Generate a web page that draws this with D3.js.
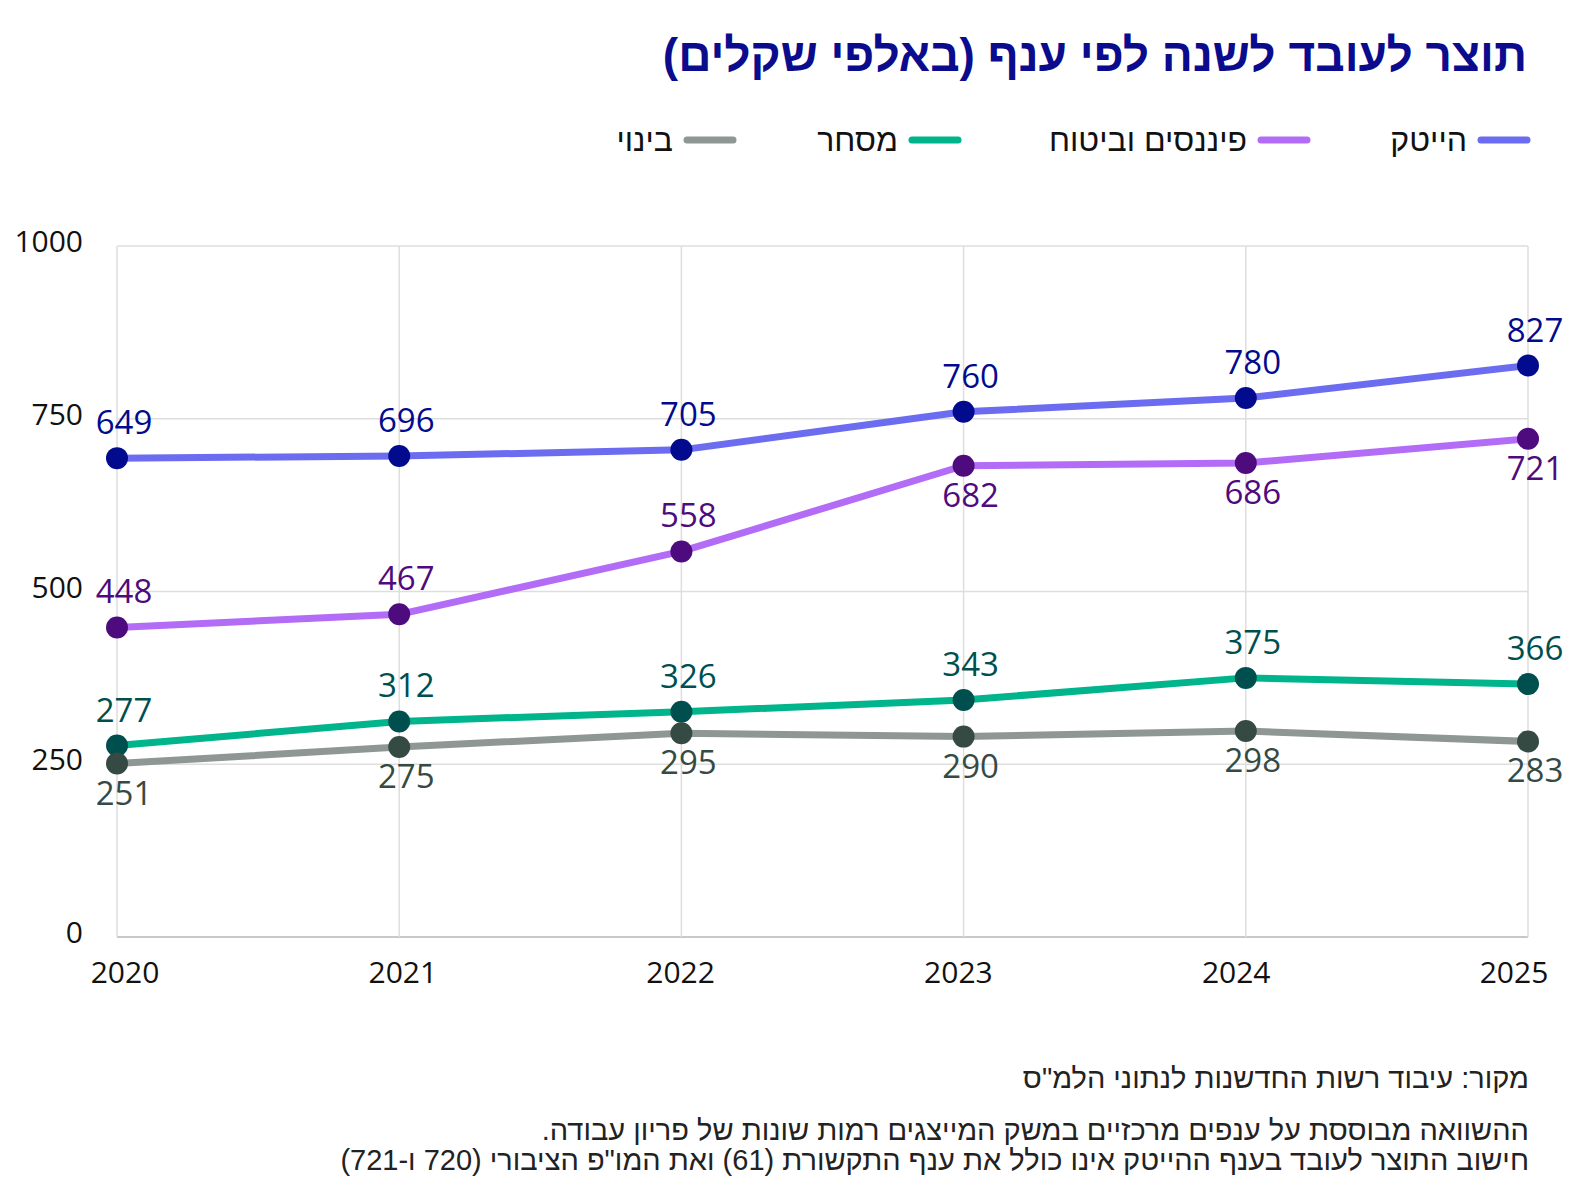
<!DOCTYPE html>
<html lang="he">
<head>
<meta charset="utf-8">
<script src="https://cdn.jsdelivr.net/npm/d3@7"></script>
<style>
  body { margin: 0; background: #fff; }
  svg { display: block; }
  .heb { font-family: "Liberation Sans", "DejaVu Sans", sans-serif; direction: rtl; }
  .num { font-family: "Open Sans", "Noto Sans", sans-serif; }
</style>
</head>
<body>
<svg id="chart" width="1591" height="1200"></svg>
<script>
// Data
var years = [2020, 2021, 2022, 2023, 2024, 2025];
var yTicks = [0, 250, 500, 750, 1000];

var hitech = [693, 696, 705, 760, 780, 827];
var hitechLabels = ["649", "696", "705", "760", "780", "827"];   // first label as printed
var finance = [448, 467, 558, 682, 686, 721];
var commerce = [277, 312, 326, 343, 375, 366];
var construction = [251, 275, 295, 290, 298, 283];

var names = ["הייטק", "פיננסים וביטוח", "מסחר", "בינוי"];

var series = [
    { name: names[0], values: hitech, labels: hitechLabels, line: "#6b6cf0", dot: "#020a8e",
      side: ["up", "up", "up", "up", "up", "up"] },
    { name: names[1], values: finance, line: "#b36cf6", dot: "#4d0b7e",
      side: ["up", "up", "up", "down", "down", "down"] },
    { name: names[2], values: commerce, line: "#00b48b", dot: "#004f4f",
      side: ["up", "up", "up", "up", "up", "up"] },
    { name: names[3], values: construction, line: "#8e9794", dot: "#364a44",
      side: ["down", "down", "down", "down", "down", "down"] }
];

var svg = d3.select("#chart");

var x = d3.scalePoint().domain(years).range([117, 1528]);
var xLabel = d3.scalePoint().domain(years).range([125, 1514]);
var y = d3.scaleLinear().domain([0, 1000]).range([937, 246]);

// Title
svg.append("text")
    .attr("class", "heb")
    .attr("x", 1527).attr("y", 71)
    .attr("text-anchor", "start")
    .style("font-size", "46px")
    .style("font-weight", "bold")
    .style("fill", "#0b0b8e")
    .text("תוצר לעובד לשנה לפי ענף (באלפי שקלים)");

// Legend
var legendX = [1527, 1307, 958, 733];
series.forEach(function(s, i) {
    var g = svg.append("g");
    g.append("line")
        .attr("x1", legendX[i] - 46).attr("x2", legendX[i])
        .attr("y1", 140).attr("y2", 140)
        .style("stroke", s.line)
        .style("stroke-width", 7)
        .style("stroke-linecap", "round");
    g.append("text")
        .attr("class", "heb")
        .attr("x", legendX[i] - 60).attr("y", 151)
        .attr("text-anchor", "start")
        .style("font-size", "32px")
        .style("fill", "#111")
        .text(s.name);
});

// Grid
svg.append("g").selectAll("line.h")
    .data(yTicks)
    .enter().append("line")
    .attr("x1", x.range()[0]).attr("x2", x.range()[1])
    .attr("y1", function(d) { return y(d); })
    .attr("y2", function(d) { return y(d); })
    .style("stroke", function(d) { return d === 0 ? "#c8c8c8" : "#dedede"; })
    .style("stroke-width", function(d) { return d === 0 ? 2 : 1.5; });

svg.append("g").selectAll("line.v")
    .data(years)
    .enter().append("line")
    .attr("x1", function(d) { return x(d); })
    .attr("x2", function(d) { return x(d); })
    .attr("y1", y(1000)).attr("y2", y(0))
    .style("stroke", "#dedede")
    .style("stroke-width", 1.5);

// Axis labels
svg.append("g").selectAll("text")
    .data(yTicks)
    .enter().append("text")
    .attr("class", "num")
    .attr("x", 83)
    .attr("y", function(d) { return y(d) + 6; })
    .attr("text-anchor", "end")
    .style("font-size", "30px")
    .style("fill", "#111")
    .text(function(d) { return d; });

svg.append("g").selectAll("text")
    .data(years)
    .enter().append("text")
    .attr("class", "num")
    .attr("x", function(d) { return xLabel(d); })
    .attr("y", 983)
    .attr("text-anchor", "middle")
    .style("font-size", "30px")
    .style("fill", "#111")
    .text(function(d) { return d; });

// Lines, dots and value labels
var line = d3.line()
    .x(function(d, i) { return x(years[i]); })
    .y(function(d) { return y(d); });

series.slice().reverse().forEach(function(s) {
    svg.append("path")
        .datum(s.values)
        .attr("d", line)
        .style("fill", "none")
        .style("stroke", s.line)
        .style("stroke-width", 7)
        .style("stroke-linejoin", "round");
});

series.forEach(function(s) {
    svg.append("g").selectAll("circle")
        .data(s.values)
        .enter().append("circle")
        .attr("cx", function(d, i) { return x(years[i]); })
        .attr("cy", function(d) { return y(d); })
        .attr("r", 11)
        .style("fill", s.dot);

    svg.append("g").selectAll("text")
        .data(s.values)
        .enter().append("text")
        .attr("class", "num")
        .attr("x", function(d, i) { return x(years[i]) + 7; })
        .attr("y", function(d, i) { return y(d) + (s.side[i] === "up" ? -24 : 41); })
        .attr("text-anchor", "middle")
        .style("font-size", "33px")
        .style("fill", s.dot)
        .text(function(d, i) { return s.labels ? s.labels[i] : d; });
});

// Footer notes
var notes = [
    "מקור: עיבוד רשות החדשנות לנתוני הלמ\"ס",
    "ההשוואה מבוססת על ענפים מרכזיים במשק המייצגים רמות שונות של פריון עבודה.",
    "חישוב התוצר לעובד בענף ההייטק אינו כולל את ענף התקשורת (61) ואת המו\"פ הציבורי (720 ו-721)"
];
var noteY = [1088, 1140, 1170];

svg.append("g").selectAll("text")
    .data(notes)
    .enter().append("text")
    .attr("class", "heb")
    .attr("x", 1529)
    .attr("y", function(d, i) { return noteY[i]; })
    .attr("text-anchor", "start")
    .style("font-size", "29px")
    .style("fill", "#222")
    .text(function(d) { return d; });
</script>
</body>
</html>
